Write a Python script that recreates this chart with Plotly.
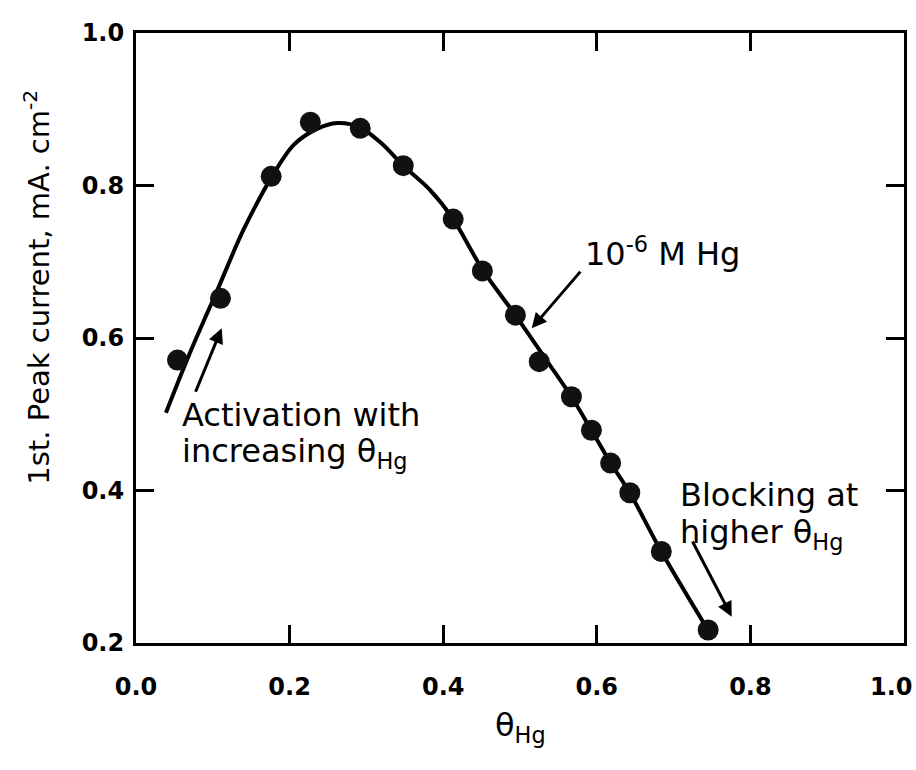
import plotly.graph_objects as go

# measured data points (theta_Hg, 1st peak current mA cm^-2)
theta_pts = [0.054, 0.110, 0.176, 0.227, 0.292, 0.348, 0.413, 0.451, 0.494,
             0.525, 0.567, 0.593, 0.618, 0.643, 0.684, 0.745]
current_pts = [0.571, 0.652, 0.812, 0.883, 0.875, 0.826, 0.756, 0.688, 0.630,
               0.569, 0.523, 0.479, 0.436, 0.397, 0.320, 0.217]

# hand-drawn smooth curve
theta_curve = [0.039, 0.070, 0.106, 0.140, 0.176, 0.205, 0.235, 0.262, 0.292,
               0.320, 0.348, 0.383, 0.413, 0.451, 0.494, 0.535, 0.567, 0.593,
               0.618, 0.643, 0.684, 0.743]
current_curve = [0.502, 0.580, 0.663, 0.742, 0.810, 0.853, 0.874, 0.882, 0.876,
                 0.855, 0.826, 0.794, 0.756, 0.690, 0.630, 0.570, 0.523, 0.479,
                 0.436, 0.397, 0.320, 0.220]

x_ticks = [0.0, 0.2, 0.4, 0.6, 0.8, 1.0]
x_ticktext = ["0.0", "0.2", "0.4", "0.6", "0.8", ""]
y_ticks = [0.2, 0.4, 0.6, 0.8, 1.0]

FONT = "DejaVu Sans"

fig = go.Figure()
fig.add_trace(go.Scatter(x=theta_curve, y=current_curve, mode="lines",
                         line=dict(color="black", width=4, shape="spline", smoothing=0.9),
                         showlegend=False, hoverinfo="skip"))
fig.add_trace(go.Scatter(x=theta_pts, y=current_pts, mode="markers",
                         marker=dict(color="#111111", size=21, line=dict(width=0)),
                         showlegend=False))

tickfont = dict(family=FONT, size=24, color="black", weight="bold")
axis_common = dict(showline=True, linecolor="black", linewidth=3, mirror="ticks",
                   ticks="inside", ticklen=18, tickwidth=3, tickcolor="black",
                   showgrid=False, zeroline=False, tickformat=".1f",
                   ticklabeloverflow="allow", automargin=False, tickfont=tickfont)

fig.update_layout(
    width=916, height=770,
    margin=dict(l=136, r=12, t=33, b=127),
    paper_bgcolor="white", plot_bgcolor="white",
    xaxis=dict(range=[0, 1], tickvals=x_ticks, ticktext=x_ticktext,
               ticklabelstandoff=20, **axis_common),
    yaxis=dict(range=[0.2, 1.0], tickvals=y_ticks, ticklabelstandoff=4, **axis_common),
)

txt = dict(family=FONT, size=32, color="black")
ttl = dict(family=FONT, size=29, color="black")


def px_x(p):
    return (p - 136) / 768


def px_y(p):
    return 0.2 + (643 - p) / 762.5


# last x tick label, kept inside the page at the right edge
fig.add_annotation(xref="paper", yref="paper", x=(915 - 136) / 768, y=(643 - 687) / 610,
                   text="1.0", showarrow=False, font=tickfont,
                   xanchor="right", yanchor="middle")

# axis titles
fig.add_annotation(xref="paper", yref="paper", x=-0.129, y=0.584, textangle=-90,
                   text="1st. Peak current, mA. cm<sup>-2</sup>", showarrow=False,
                   font=ttl, xanchor="center", yanchor="middle")
fig.add_annotation(xref="paper", yref="paper", x=0.501, y=-0.137,
                   text="θ<sub>Hg</sub>", showarrow=False, font=txt,
                   xanchor="center", yanchor="middle")

# text labels (one annotation per line)
labels = [
    ("Activation with", 180, 415),
    ("increasing θ<sub>Hg</sub>", 180, 453),
    ("Blocking at", 678, 495),
    ("higher θ<sub>Hg</sub>", 678, 534),
    ("10<sup>-6</sup> M Hg", 583, 252),
]
for t, lx, ly in labels:
    fig.add_annotation(xref="x", yref="y", x=px_x(lx), y=px_y(ly), text=t,
                       showarrow=False, font=txt, xanchor="left", yanchor="middle",
                       align="left")

# arrows (tip, tail)
arrows = [
    ((0.1116, 0.6127), (0.0768, 0.5275)),
    ((0.5152, 0.6127), (0.5803, 0.6890)),
    ((0.7757, 0.2345), (0.7236, 0.3350)),
]
for (tx, ty), (axx, ayy) in arrows:
    fig.add_annotation(xref="x", yref="y", axref="x", ayref="y",
                       x=tx, y=ty, ax=axx, ay=ayy, text="", showarrow=True,
                       arrowhead=2, arrowsize=1.0, arrowwidth=3, arrowcolor="black",
                       standoff=0, startstandoff=0)

fig.write_html("out.html")
